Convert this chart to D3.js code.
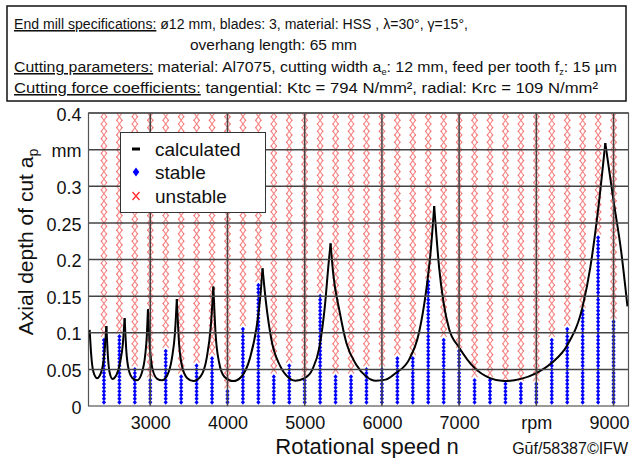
<!DOCTYPE html>
<html>
<head>
<meta charset="utf-8">
<script src="https://cdn.jsdelivr.net/npm/d3@7"></script>
<style>
  body { margin: 0; background: #fff; }
  svg { display: block; font-family: "Liberation Sans", Arial, sans-serif; }
</style>
</head>
<body>
<svg width="632" height="458"></svg>
<script>
// measured stability limit per spindle speed (blue = stable up to stableTop)
const colRpm = [2400, 2600, 2800, 3000, 3200, 3400, 3600, 3800, 4000, 4200, 4400, 4600,
  4800, 5000, 5200, 5400, 5600, 5800, 6000, 6200, 6400, 6600, 6800, 7000,
  7200, 7400, 7600, 7800, 8000, 8200, 8400, 8600, 8800, 9000];
const stableTop = [0.09, 0.095, 0.05, 0.035, 0.075, 0.04, 0.055, 0.065, 0.02, 0.105, 0.165, 0.04,
  0.055, 0.035, 0.15, 0.04, 0.04, 0.05, 0.05, 0.065, 0.065, 0.17, 0.09, 0.075,
  0.035, 0.035, 0.03, 0.03, 0.03, 0.09, 0.105, 0.13, 0.23, 0.115];
const stableStep = 0.005;
const unstableStep = 0.01;

// calculated stability lobes, one array per lobe [rpm, ap]
const lobes = [
  [[2215, 0.104], [2235, 0.07], [2265, 0.046], [2310, 0.038], [2360, 0.045], [2400, 0.066], [2432, 0.109]],
  [[2432, 0.109], [2450, 0.07], [2475, 0.045], [2510, 0.037], [2560, 0.042], [2610, 0.06], [2645, 0.085], [2668, 0.12]],
  [[2668, 0.12], [2690, 0.075], [2720, 0.05], [2770, 0.038], [2830, 0.035], [2890, 0.045], [2935, 0.07], [2955, 0.095], [2970, 0.132]],
  [[2970, 0.132], [2995, 0.08], [3030, 0.05], [3090, 0.037], [3150, 0.035], [3220, 0.042], [3280, 0.065], [3320, 0.1], [3344, 0.146]],
  [[3344, 0.146], [3370, 0.09], [3410, 0.055], [3480, 0.038], [3560, 0.034], [3650, 0.04], [3730, 0.065], [3785, 0.11], [3817, 0.163]],
  [[3817, 0.163], [3845, 0.1], [3890, 0.06], [3960, 0.04], [4075, 0.034], [4180, 0.04], [4290, 0.065], [4380, 0.11], [4430, 0.155], [4454, 0.188]],
  [[4454, 0.188], [4500, 0.14], [4570, 0.09], [4680, 0.055], [4800, 0.038], [4880, 0.0345], [5000, 0.038], [5100, 0.05], [5190, 0.08], [5260, 0.135], [5310, 0.195], [5335, 0.222]],
  [[5335, 0.222], [5370, 0.18], [5450, 0.13], [5540, 0.086], [5670, 0.056], [5800, 0.04], [5920, 0.0345], [6050, 0.036], [6180, 0.045], [6350, 0.063], [6480, 0.1], [6570, 0.155], [6635, 0.215], [6677, 0.273]],
  [[6677, 0.273], [6740, 0.19], [6800, 0.14], [6870, 0.105], [7000, 0.08], [7200, 0.052], [7400, 0.038], [7580, 0.034], [7800, 0.037], [8000, 0.045], [8200, 0.059], [8400, 0.083], [8600, 0.136], [8700, 0.19], [8800, 0.268], [8893, 0.359]],
  [[8893, 0.359], [9000, 0.28], [9100, 0.21], [9180, 0.136]]
];

const xTicks = [3000, 4000, 5000, 6000, 7000, 8000, 9000];
const yTicks = [0, 0.05, 0.1, 0.15, 0.2, 0.25, 0.3, 0.35, 0.4];

const svg = d3.select("svg");
const pLeft = 88.5, pRight = 628.5, pTop = 113, pBottom = 406;

const x = d3.scaleLinear().domain([2200, 9200]).range([pLeft, pLeft + 540.5]);
const y = d3.scaleLinear().domain([0, 0.4]).range([pBottom, pTop]);

// header box
const head = svg.append("g");
head.append("rect")
  .attr("x", 7).attr("y", 6).attr("width", 619).attr("height", 95)
  .attr("fill", "#fff").attr("stroke", "#111").attr("stroke-width", 1.5);

const hfs = 15.5;
function headLine(yy, xx, len) {
  return head.append("text").attr("x", xx).attr("y", yy)
    .attr("textLength", len).attr("lengthAdjust", "spacingAndGlyphs")
    .attr("font-size", hfs).attr("fill", "#111");
}
let t = headLine(29, 14, 454);
t.append("tspan").attr("text-decoration", "underline").text("End mill specifications:");
t.append("tspan").text("  \u00f812 mm, blades: 3, material: HSS , \u03bb=30\u00b0, \u03b3=15\u00b0,");
headLine(50, 190, 167).text("overhang length: 65 mm");
t = headLine(72, 14, 603);
t.append("tspan").attr("text-decoration", "underline").text("Cutting parameters:");
t.append("tspan").text(" material: Al7075, cutting width a");
t.append("tspan").attr("dy", 3).attr("font-size", 9).text("e");
t.append("tspan").attr("dy", -3).text(": 12 mm, feed per tooth f");
t.append("tspan").attr("dy", 3).attr("font-size", 9).text("z");
t.append("tspan").attr("dy", -3).text(": 15 \u00b5m");
t = headLine(93, 14, 584);
t.append("tspan").attr("text-decoration", "underline").text("Cutting force coefficients:");
t.append("tspan").text(" tangential: Ktc = 794 N/mm\u00b2, radial: Krc = 109 N/mm\u00b2");

// plot area
svg.append("defs").append("clipPath").attr("id", "plotclip")
  .append("rect").attr("x", pLeft).attr("y", pTop).attr("width", pRight - pLeft).attr("height", pBottom - pTop);

const plot = svg.append("g").attr("clip-path", "url(#plotclip)");

// unstable (red x) and stable (blue diamond) points
const redPts = [], bluePts = [];
colRpm.forEach((r, i) => {
  const s = stableTop[i];
  for (let k = 1; k * stableStep <= s + 1e-9; k++) bluePts.push([r, k * stableStep]);
  for (let k = 1; s + k * unstableStep <= 0.4 + 1e-9; k++) redPts.push([r, s + k * unstableStep]);
});

plot.append("g").selectAll("path").data(redPts).join("path")
  .attr("transform", d => `translate(${x(d[0])},${y(d[1])})`)
  .attr("d", "M-3,-4.2L3,4.2M-3,4.2L3,-4.2")
  .attr("stroke", "#f26868").attr("stroke-width", 1.1).attr("fill", "none")
  .attr("opacity", 0.8);

plot.append("g").selectAll("path").data(bluePts).join("path")
  .attr("transform", d => `translate(${x(d[0])},${y(d[1])})`)
  .attr("d", "M0,-2.4L2.1,0L0,2.4L-2.1,0Z")
  .attr("fill", "#0000ff");

// grid
const grid = svg.append("g").attr("stroke", "#444").attr("stroke-width", 1.5);
grid.selectAll("line.h").data(yTicks.slice(1)).join("line").attr("class", "h")
  .attr("x1", pLeft).attr("x2", pRight).attr("y1", d => y(d)).attr("y2", d => y(d));
grid.selectAll("line.v").data(xTicks).join("line").attr("class", "v")
  .attr("x1", d => x(d)).attr("x2", d => x(d)).attr("y1", pTop).attr("y2", pBottom);

// frame
svg.append("rect").attr("x", pLeft).attr("y", pTop).attr("width", pRight - pLeft).attr("height", pBottom - pTop)
  .attr("fill", "none").attr("stroke", "#555").attr("stroke-width", 1.2);

// calculated lobes
const line = d3.line().x(d => x(d[0])).y(d => y(d[1])).curve(d3.curveMonotoneX);
plot.append("g").selectAll("path").data(lobes).join("path")
  .attr("d", line).attr("fill", "none").attr("stroke", "#000").attr("stroke-width", 2);

// axes
const xAxis = svg.append("g").attr("transform", `translate(0,${pBottom})`)
  .call(d3.axisBottom(x).tickValues(xTicks).tickSize(0).tickPadding(10)
    .tickFormat(d => d === 8000 ? "rpm" : d));
const yAxis = svg.append("g").attr("transform", `translate(${pLeft},0)`)
  .call(d3.axisLeft(y).tickValues(yTicks).tickSize(0).tickPadding(7)
    .tickFormat(d => d === 0.35 ? "mm" : d3.format("")(d)));
[xAxis, yAxis].forEach(a => {
  a.select(".domain").remove();
  a.selectAll("text").attr("font-size", 18).attr("fill", "#111")
    .attr("font-family", "Liberation Sans, Arial, sans-serif");
});
yAxis.selectAll("text").attr("dy", "0.4em");
// last x label is pushed in so it stays inside the picture
xAxis.selectAll(".tick").filter(d => d === 9000).select("text")
  .attr("text-anchor", "end").attr("x", 629 - x(9000));

// axis titles
const yl = svg.append("text").attr("transform", "translate(33,242) rotate(-90)")
  .attr("text-anchor", "middle").attr("font-size", 21).attr("fill", "#111");
yl.append("tspan").text("Axial depth of cut a");
yl.append("tspan").attr("dy", 5).attr("font-size", 14).text("p");

svg.append("text").attr("x", 367).attr("y", 454).attr("text-anchor", "middle")
  .attr("font-size", 22).attr("fill", "#111").text("Rotational speed n");
svg.append("text").attr("x", 628).attr("y", 454).attr("text-anchor", "end")
  .attr("font-size", 16).attr("fill", "#111").text("G\u016bf/58387\u00a9IFW");

// legend
const lg = svg.append("g");
lg.append("rect").attr("x", 120.5).attr("y", 132.5).attr("width", 145).attr("height", 80)
  .attr("fill", "#fff").attr("stroke", "#333").attr("stroke-width", 1);
lg.append("line").attr("x1", 132).attr("x2", 140).attr("y1", 149).attr("y2", 149)
  .attr("stroke", "#000").attr("stroke-width", 3);
lg.append("path").attr("transform", "translate(136,172)").attr("d", "M0,-4.5L3.3,0L0,4.5L-3.3,0Z").attr("fill", "#0000ff");
lg.append("path").attr("transform", "translate(136,196)").attr("d", "M-3.5,-4L3.5,4M-3.5,4L3.5,-4")
  .attr("stroke", "#ff3030").attr("stroke-width", 1.4);
[["calculated", 149], ["stable", 172], ["unstable", 196]].forEach(([s, yy]) => {
  lg.append("text").attr("x", 155).attr("y", yy).attr("dy", "0.35em")
    .attr("font-size", 19).attr("fill", "#111").text(s);
});
</script>
</body>
</html>
